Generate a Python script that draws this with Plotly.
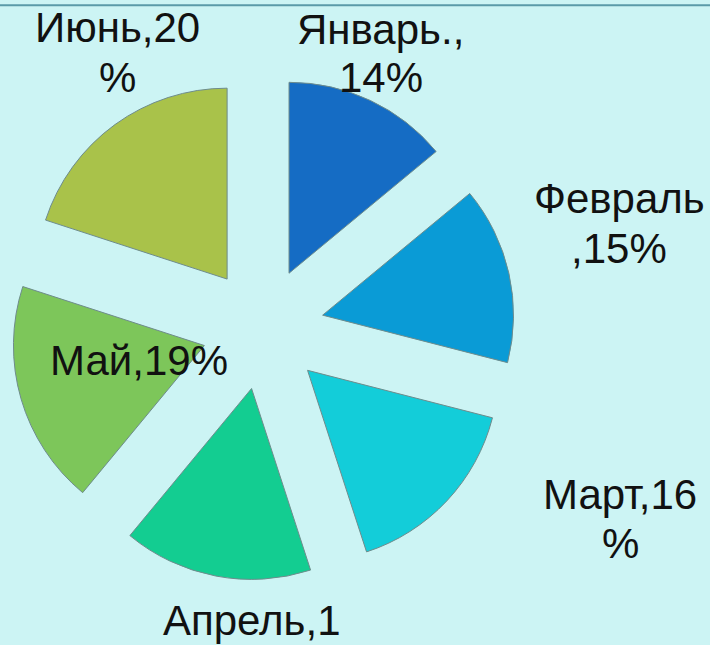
import plotly.graph_objects as go

months = ["Январь", "Февраль", "Март", "Апрель", "Май", "Июнь"]
values = [14, 15, 16, 16, 19, 20]
# label text as shown (with the reference's line wrapping)
label_lines = [
    ["Январь.,", "14%"],
    ["Февраль", ",15%"],
    ["Март,16", "%"],
    ["Апрель,1", "6%"],
    ["Май,19%"],
    ["Июнь,20", "%"],
]
colors = ["#156CC4", "#0A9BD6", "#13CDD9", "#13CD91", "#7DC65A", "#A9C24A"]

# label placement (pixel centre of the first line) and line spacing
label_pos = [(381, 29), (619, 199), (620, 494), (252, 620), (139, 361), (117, 28)]
line_gap = 49

W, H = 710, 645

fig = go.Figure(go.Pie(
    labels=months,
    values=values,
    textinfo="none",
    sort=False,
    direction="clockwise",
    rotation=0,
    pull=[0.32] * len(values),
    marker=dict(colors=colors, line=dict(color="#6E8C8C", width=1)),
    domain=dict(x=[0.0155, 0.7254], y=[0.100, 0.8814]),
    showlegend=False,
    hoverinfo="label+percent",
))

annotations = []
for lines, (px, py) in zip(label_lines, label_pos):
    for i, ln in enumerate(lines):
        annotations.append(dict(
            text=ln, x=px / W, y=1 - (py + i * line_gap) / H,
            xref="paper", yref="paper", xanchor="center", yanchor="middle",
            showarrow=False,
            font=dict(family="Liberation Sans, Arial, sans-serif", size=42, color="#111111"),
        ))

fig.update_layout(
    width=W, height=H,
    margin=dict(l=0, r=0, t=0, b=0),
    paper_bgcolor="#CCF4F4",
    plot_bgcolor="#CCF4F4",
    annotations=annotations,
    shapes=[dict(type="line", xref="paper", yref="paper", x0=0, x1=1, y0=0.992, y1=0.992,
                 line=dict(color="#5A9AA8", width=2))],
)

fig.write_html("out.html")
